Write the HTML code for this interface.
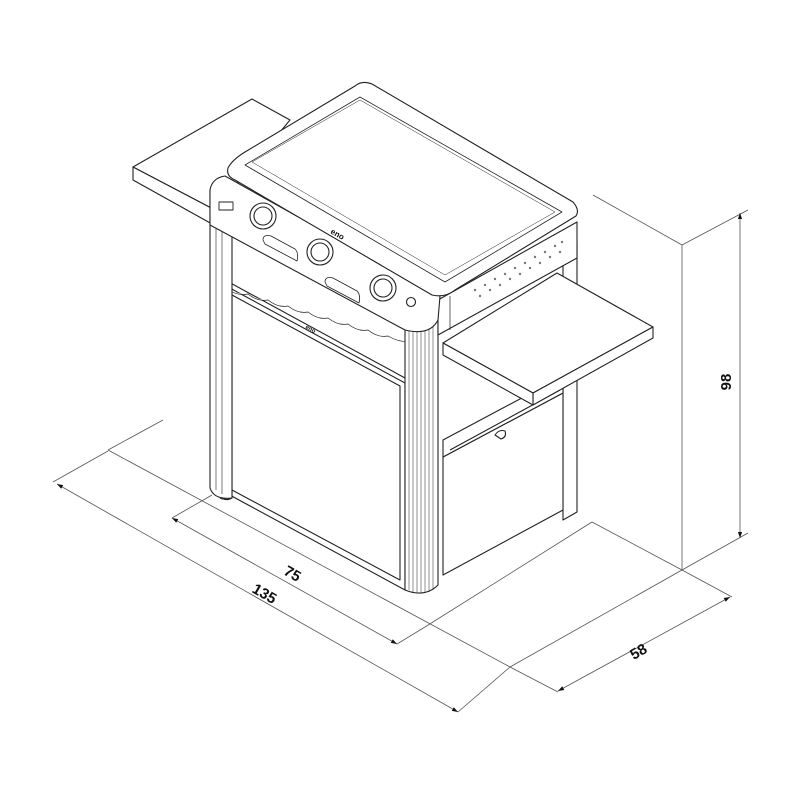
<!DOCTYPE html>
<html><head><meta charset="utf-8"><style>
html,body{margin:0;padding:0;background:#fff;}
svg{display:block;}
text{font-family:"Liberation Sans",sans-serif;font-weight:bold;fill:#111;}
</style></head><body>
<svg width="800" height="800" viewBox="0 0 800 800" xmlns="http://www.w3.org/2000/svg">
<defs>
<marker id="ar" viewBox="0 0 10 10" refX="10" refY="5" markerUnits="userSpaceOnUse" markerWidth="11" markerHeight="6" orient="auto-start-reverse"><path d="M0,1.5 L10,5 L0,8.5 z" fill="#111" stroke="none"/></marker>
</defs>
<g fill="none" stroke="#555" stroke-width="0.8">
<line x1="108" y1="450" x2="163" y2="420"/>
<line x1="108" y1="450" x2="510" y2="667"/>
<line x1="53" y1="482" x2="108" y2="451"/>
<line x1="172" y1="518" x2="212" y2="495"/>
<line x1="397" y1="644" x2="425" y2="627"/>
<line x1="425" y1="627" x2="592" y2="522"/>
<line x1="458" y1="712" x2="510" y2="667"/>
<line x1="510" y1="667" x2="682" y2="570"/>
<line x1="682" y1="570" x2="682" y2="245"/>
<line x1="593" y1="195" x2="682" y2="245"/>
<line x1="682" y1="245" x2="748" y2="210"/>
<line x1="682" y1="570" x2="748" y2="533"/>
<line x1="682" y1="570" x2="732" y2="597"/>
<line x1="510" y1="667" x2="558" y2="692"/>
<line x1="592" y1="522" x2="682" y2="570"/>
<line x1="57" y1="484" x2="458" y2="712" marker-start="url(#ar)" marker-end="url(#ar)"/>
<line x1="172" y1="518" x2="397" y2="644" marker-start="url(#ar)" marker-end="url(#ar)"/>
<line x1="740" y1="213" x2="740" y2="538" marker-start="url(#ar)" marker-end="url(#ar)"/>
<line x1="558" y1="691" x2="730" y2="597" marker-start="url(#ar)" marker-end="url(#ar)"/>
</g>
<text x="290" y="578" font-size="15" transform="rotate(30 290 578)" text-anchor="middle">75</text>
<text x="262" y="598" font-size="15" transform="rotate(30 262 598)" text-anchor="middle">135</text>
<text x="731" y="382" font-size="15" transform="rotate(-90 731 382)" text-anchor="middle">98</text>
<text x="641" y="656" font-size="15" transform="rotate(-30 641 656)" text-anchor="middle">58</text>

<g fill="#fff" stroke="#222" stroke-width="1.1" stroke-linejoin="round">
<path d="M133,167 L252,99 L290,120 L215,210 Z"/>
<path d="M133,167 L133,180 L212,224 L215,210 Z"/>
<path d="M563,250 L577,243 L577,512 L563,520 Z"/>
<path d="M443,457 L563,393 L563,510 L443,575 Z"/>
<path d="M443,440 L563,376 L563,393 L443,457 Z"/>
<line x1="450" y1="450" x2="560" y2="390"/>
<path d="M495,435 q4,-6 10,-4 q2,6 -4,8 z"/>
<path d="M215,280 L405,383 L405,590 L215,487 Z"/>
<path d="M232,295 L400,386 L400,580 L232,490 Z"/>
<line x1="225" y1="285" x2="225" y2="493"/>
<path d="M225,280 L405,378" />
<path d="M228,290 q10,6 20,4 q10,8 20,6 q10,8 20,6 q10,8 20,6 q10,8 20,6 q10,8 20,6 q10,8 20,6 q10,8 20,6 q10,6 22,6" stroke-width="0.7"/>
<path d="M232,490 L232,498 Q225,502 220,496 Z"/>
<circle cx="223" cy="495" r="4"/>
<path d="M210,190 L210,488 Q214,500 232,498 L232,200 Z"/>
<line x1="216" y1="195" x2="216" y2="490" stroke-width="0.6"/>
<line x1="222" y1="197" x2="222" y2="494" stroke-width="0.6"/>
<path d="M405,320 L438,320 L438,585 Q425,598 405,590 Z"/>
<g stroke-width="0.5">
<line x1="409" y1="322" x2="409" y2="590"/><line x1="413" y1="322" x2="413" y2="592"/>
<line x1="417" y1="322" x2="417" y2="593"/><line x1="421" y1="322" x2="421" y2="593"/>
<line x1="425" y1="322" x2="425" y2="593"/><line x1="429" y1="322" x2="429" y2="592"/>
<line x1="433" y1="322" x2="433" y2="590"/>
</g>
<path d="M443,343 L557,273 L653,327 L533,393 Z"/>
<path d="M533,393 L533,405 L653,338 L653,327 Z"/>
<path d="M443,343 L443,355 L533,405 L533,393 Z"/>
<path d="M438,300 L577,222 L577,258 L438,335 Z"/>
<line x1="450" y1="296" x2="450" y2="330" stroke-width="0.7"/>
<g fill="#777" stroke="none">
<circle cx="475" cy="290" r="1.2"/><circle cx="485" cy="285" r="1.2"/><circle cx="495" cy="279" r="1.2"/><circle cx="505" cy="274" r="1.2"/><circle cx="515" cy="268" r="1.2"/><circle cx="525" cy="263" r="1.2"/><circle cx="535" cy="257" r="1.2"/><circle cx="545" cy="252" r="1.2"/><circle cx="555" cy="246" r="1.2"/><circle cx="562" cy="242" r="1.2"/>
<circle cx="480" cy="296" r="1.2"/><circle cx="490" cy="290" r="1.2"/><circle cx="500" cy="285" r="1.2"/><circle cx="510" cy="279" r="1.2"/><circle cx="520" cy="274" r="1.2"/><circle cx="530" cy="268" r="1.2"/><circle cx="540" cy="263" r="1.2"/><circle cx="550" cy="257" r="1.2"/><circle cx="560" cy="252" r="1.2"/>
</g>
<path d="M210,190 Q212,178 225,176 L440,296 L438,320 Q430,336 405,330 L210,225 Z"/>
<path d="M228,168 Q232,160 245,152 L355,86 Q362,80 372,84 L573,202 Q580,210 576,216 L455,290 Q445,298 432,295 L235,180 Q226,176 228,168 Z"/>
<path d="M245,165 L360,97 L562,212 L445,282 Z" stroke-width="0.8"/>
<path d="M252,162 L360,100 L555,212 L445,275 Z" stroke-width="0.5"/>
<circle cx="263" cy="216" r="13"/><circle cx="263" cy="216" r="9"/>
<circle cx="320" cy="252" r="13"/><circle cx="320" cy="252" r="9"/>
<circle cx="383" cy="288" r="13"/><circle cx="383" cy="288" r="9"/>
<circle cx="411" cy="302" r="4.5"/>
<rect x="219" y="202" width="14" height="8" stroke-width="0.9"/>
<path d="M263,240 q0,-6 8,-4 l24,13 q4,4 2,12 l-32,-17 z" stroke-width="0.8"/>
<path d="M325,282 q0,-6 8,-4 l24,13 q4,4 2,12 l-32,-17 z" stroke-width="0.8"/>
</g>
<text x="330" y="233" font-size="8" font-weight="normal" transform="rotate(30 330 233)">eno</text>
<text x="305" y="328" font-size="6" font-weight="normal" transform="rotate(30 305 328)">eno</text>
</svg>
</body></html>
